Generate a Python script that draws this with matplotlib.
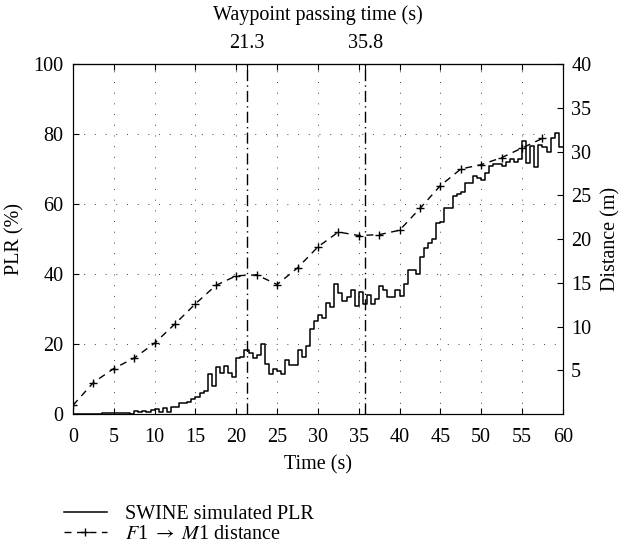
import matplotlib
matplotlib.use("Agg")
import matplotlib.pyplot as plt
import numpy as np

plt.rcParams['font.family'] = ['Liberation Serif', 'DejaVu Serif']
plt.rcParams['mathtext.fontset'] = 'stix'
plt.rcParams['font.size'] = 14.5

# SWINE simulated PLR (%), one value per 0.5 s step starting at t = 0
plr_t0 = 0.0
plr_dt = 0.5
plr = [
    0.0, 0.0, 0.0, 0.0, 0.0, 0.0, 0.1, 0.2, 0.3, 0.2,      # 0 - 4.5
    0.4, 0.3, 0.2, 0.2, 0.1, 0.8, 0.5, 0.8, 0.7, 1.2,      # 5 - 9.5
    1.5, 0.6, 1.6, 0.5, 2.1, 2.1, 3.2, 3.2, 3.3, 4.4,      # 10 - 14.5
    5.0, 5.9, 6.5, 11.4, 8.0, 13.5, 11.8, 13.7, 11.6, 10.7,  # 15 - 19.5
    15.9, 16.2, 18.3, 17.3, 15.9, 16.9, 20.0, 14.3, 11.4, 12.8,  # 20 - 24.5
    12.4, 11.4, 15.4, 14.0, 14.0, 18.3, 16.4, 19.5, 24.4, 26.5,  # 25 - 29.5
    28.3, 27.5, 31.6, 30.5, 37.1, 34.6, 32.3, 33.5, 35.3, 30.9,  # 30 - 34.5
    35.0, 31.5, 34.0, 31.4, 33.0, 36.5, 35.3, 33.4, 33.4, 35.3,  # 35 - 39.5
    33.7, 37.1, 41.1, 41.1, 39.9, 45.0, 47.5, 48.9, 50.0, 54.7,  # 40 - 44.5
    55.0, 59.0, 58.8, 62.3, 63.0, 63.5, 66.1, 66.1, 68.0, 67.3,  # 45 - 49.5
    66.9, 68.8, 70.9, 71.4, 71.4, 70.9, 72.1, 72.8, 72.1, 72.8,  # 50 - 54.5
    78.1, 71.6, 76.6, 70.5, 76.9, 76.2, 75.0, 78.8, 80.2, 76.2,  # 55 - 59.5
]

# F1 -> M1 distance (m)
dist_t = [0, 2.5, 5, 7.5, 10, 12.5, 15, 17.5, 20, 22.5, 25, 27.5,
          30, 32.5, 35, 37.5, 40, 42.5, 45, 47.5, 50, 52.5, 55, 57.5]
dist_m = [1.0, 3.6, 5.2, 6.4, 8.1, 10.3, 12.6, 14.7, 15.8, 15.9, 14.8, 16.7,
          19.1, 20.8, 20.4, 20.5, 21.0, 23.5, 26.1, 28.0, 28.5, 29.3, 30.4, 31.5]

# waypoint passing times (s)
waypoints = [21.3, 35.8]

x_ticks = list(range(0, 65, 5))
plr_ticks = list(range(0, 120, 20))
dist_ticks = list(range(5, 45, 5))

plr_time = plr_t0 + plr_dt * np.arange(len(plr) + 1)
plr_vals = plr + [plr[-1]]

fig = plt.figure(figsize=(6.24, 5.52), dpi=100)
ax = fig.add_axes([0.117, 0.25, 0.785, 0.634])
ax2 = ax.twinx()

# sparse dotted grid, MATLAB style
grid_style = (0, (1, 10))
for xv in x_ticks[1:-1]:
    ax.axvline(xv, color='#444444', lw=0.7, ls=grid_style, zorder=1)
for yv in plr_ticks[1:-1]:
    ax.axhline(yv, color='#444444', lw=0.7, ls=grid_style, zorder=1)

for w in waypoints:
    ax.axvline(w, color='black', lw=1.0, ls=(0, (8, 3, 1, 3)), zorder=2)

l1, = ax.step(plr_time, plr_vals, where='post', color='black', lw=1.1,
              zorder=3, label='SWINE simulated PLR')
l2, = ax2.plot(dist_t, dist_m, color='black', lw=1.0, ls=(0, (5, 4)),
               marker='+', ms=6, mew=1.0, label=r'$F$1 $\rightarrow$ $M$1 distance')

ax.set_xlim(0, 60)
ax.set_ylim(0, 100)
ax2.set_ylim(0, 40)
ax.set_xticks(x_ticks)
ax.set_yticks(plr_ticks)
ax2.set_yticks(dist_ticks)
ax.tick_params(axis='x', direction='in', top=True, length=4, pad=10)
ax.tick_params(axis='y', direction='in', length=4, pad=7)
ax2.tick_params(direction='in', length=4, pad=6)
ax.set_xlabel('Time (s)', labelpad=6)
ax.set_ylabel('PLR (%)', labelpad=6)
ax2.set_ylabel('Distance (m)', labelpad=7)

secax = ax.secondary_xaxis('top')
secax.set_xticks(waypoints)
secax.set_xticklabels(['%.1f' % w for w in waypoints])
secax.tick_params(direction='in', length=4, pad=8)
secax.set_xlabel('Waypoint passing time (s)', labelpad=10)

fig.legend(handles=[l1, l2], loc='upper left', bbox_to_anchor=(0.09, 0.1),
           frameon=False, handlelength=2.1, handletextpad=0.9,
           labelspacing=0.05, borderaxespad=0)

fig.savefig('out.png', dpi=100)
